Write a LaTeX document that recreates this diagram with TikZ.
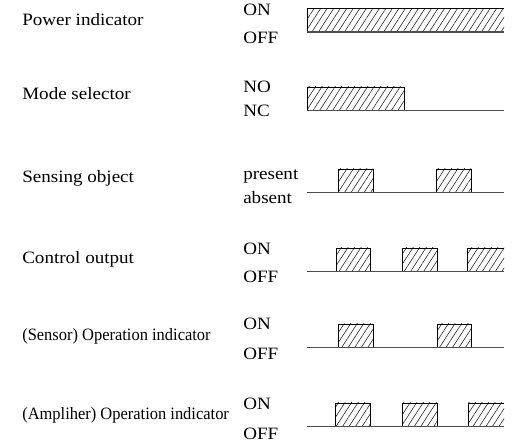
\documentclass[tikz,border=0pt]{standalone}
\usepackage{fontspec}
\setmainfont{Liberation Serif}
\newfontfamily\siglabfont[FakeStretch=1.1]{Liberation Serif}
\newfontfamily\oplabfont[FakeStretch=0.95]{Liberation Serif}
\usetikzlibrary{patterns.meta}
\definecolor{baseGray}{HTML}{4D4D4D}

\begin{document}
\begin{tikzpicture}[
  x=0.75pt, y=-0.75pt,
  sig/.style={font=\siglabfont\fontsize{13}{15}\selectfont, anchor=base west, inner sep=0pt},
  oplab/.style={font=\oplabfont\fontsize{13}{15}\selectfont, anchor=base west, inner sep=0pt},
  hatch/.style={pattern={Lines[angle=57, distance=4.1pt, line width=0.45pt]}, pattern color=black!85},
  edge/.style={draw=black, line width=0.6pt},
  level/.style={draw=baseGray, line width=1.2pt},
]
\useasboundingbox (0,0) rectangle (522,442);

% signal names
\node[sig] (power) at (22,25.7) {Power indicator};
\node[sig] (mode) at (22,100) {Mode selector};
\node[sig] (sensing) at (22,182.7) {Sensing object};
\node[sig] (control) at (22,264) {Control output};
\node[oplab] (sensorop) at (22,340.7) {(Sensor) Operation indicator};
\node[oplab] (ampop) at (22,420) {(Ampliher) Operation indicator};

% states
\node[sig] (powerhi) at (243,16) {ON};
\node[sig] (powerlo) at (243,43.3) {OFF};
\node[sig] (modehi) at (243,93) {NO};
\node[sig] (modelo) at (243,116.7) {NC};
\node[sig] (sensinghi) at (243,179.3) {present};
\node[sig] (sensinglo) at (243,204) {absent};
\node[sig] (controlhi) at (243,255) {ON};
\node[sig] (controllo) at (243,283) {OFF};
\node[sig] (sensorophi) at (243,330) {ON};
\node[sig] (sensoroplo) at (243,360) {OFF};
\node[sig] (ampophi) at (243,410) {ON};
\node[sig] (ampoplo) at (243,439.3) {OFF};

% power indicator
\fill[hatch] (307,8.3) rectangle (504,32.3);
\draw[edge] (307,32.3) -- (307,8.3) -- (504,8.3);
\draw[level] (307,32.3) -- (504,32.3);

% mode selector
\fill[hatch] (307,87) rectangle (404,110.7);
\draw[edge] (307,110.7) -- (307,87) -- (404,87) -- (404,110.7);
\draw[level] (307,110.7) -- (504,110.7);

% sensing object
\foreach \a/\b in {338/373, 436/471} {
  \fill[hatch] (\a,169) rectangle (\b,192.7);
  \draw[edge] (\a,192.7) -- (\a,169) -- (\b,169) -- (\b,192.7);
}
\draw[level] (307,192.7) -- (504,192.7);

% control output
\foreach \a/\b in {336/370, 402/437} {
  \fill[hatch] (\a,248) rectangle (\b,271.7);
  \draw[edge] (\a,271.7) -- (\a,248) -- (\b,248) -- (\b,271.7);
}
\fill[hatch] (467,248) rectangle (504,271.7);
\draw[edge] (467,271.7) -- (467,248) -- (504,248);
\draw[level] (307,271.7) -- (504,271.7);

% sensor operation indicator
\foreach \a/\b in {338/373, 437/471} {
  \fill[hatch] (\a,324) rectangle (\b,347.7);
  \draw[edge] (\a,347.7) -- (\a,324) -- (\b,324) -- (\b,347.7);
}
\draw[level] (307,347.7) -- (504,347.7);

% amplifier operation indicator
\foreach \a/\b in {335/370, 402/437} {
  \fill[hatch] (\a,403) rectangle (\b,426.7);
  \draw[edge] (\a,426.7) -- (\a,403) -- (\b,403) -- (\b,426.7);
}
\fill[hatch] (468,403) rectangle (504,426.7);
\draw[edge] (468,426.7) -- (468,403) -- (504,403);
\draw[level] (307,426.7) -- (504,426.7);

\end{tikzpicture}
\end{document}
